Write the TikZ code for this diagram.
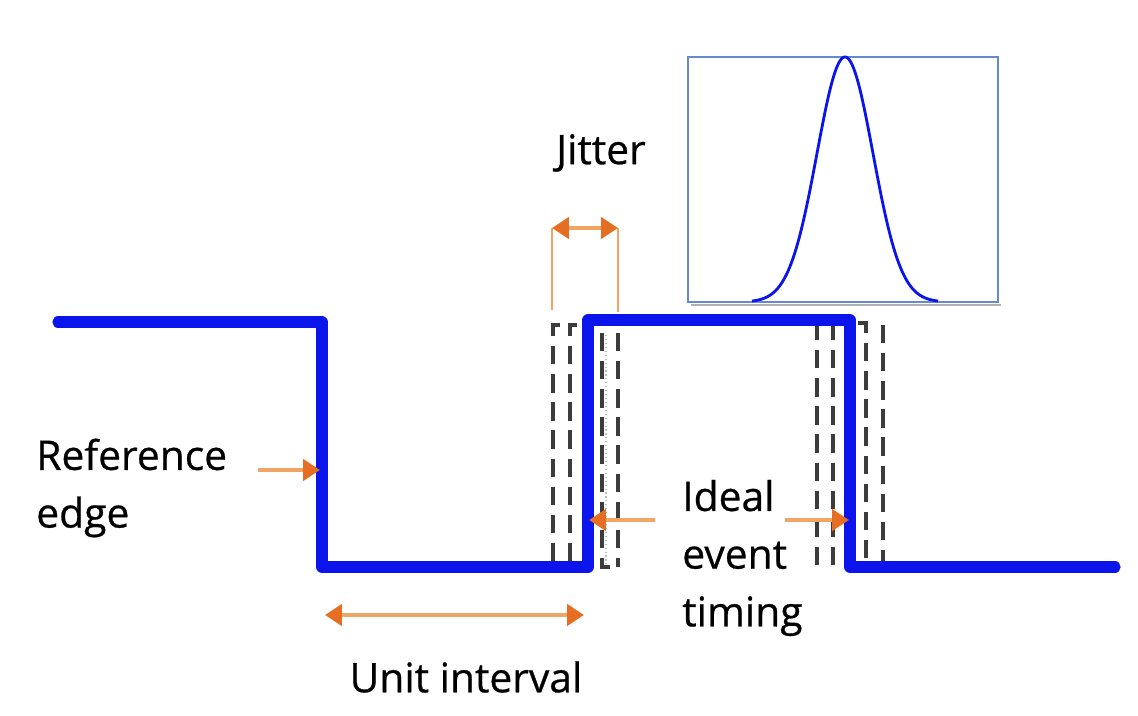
\documentclass[tikz,border=0pt]{standalone}
\usepackage{fontspec}
\setmainfont{Open Sans}
\newfontfamily\lblfont[FakeBold=0.6]{Open Sans}
\usetikzlibrary{arrows.meta}
\definecolor{sig}{RGB}{10,20,235}
\definecolor{orl}{RGB}{240,165,100}
\definecolor{ord}{RGB}{230,110,35}
\definecolor{boxc}{RGB}{100,140,205}
\definecolor{dgr}{RGB}{60,60,60}
\tikzset{
  signal/.style={draw=sig,line width=8pt,line join=round,line cap=round},
  oarrow/.style={draw=orl,line width=2.8pt,-{Triangle[length=12pt,width=15pt,color=ord,fill=ord]}},
  oarrows/.style={draw=orl,line width=2.8pt,{Triangle[length=12pt,width=15pt,color=ord,fill=ord]}-{Triangle[length=12pt,width=15pt,color=ord,fill=ord]}},
  bracket/.style={draw=orl,line width=1.5pt},
  ghost/.style={draw=dgr,line width=2.4pt,dash pattern=on 13pt off 7pt},
  lbl/.style={font=\lblfont\fontsize{29}{41}\selectfont,inner sep=0pt},
}
\begin{document}
\begin{tikzpicture}[x=0.025cm,y=-0.025cm]
\useasboundingbox (0,0) rectangle (1138,716);
% signal corners
\coordinate (s0) at (58,322);
\coordinate (s1) at (322,322);
\coordinate (s2) at (322,567);
\coordinate (s3) at (588,567);
\coordinate (s4) at (588,320);
\coordinate (s5) at (850,320);
\coordinate (s6) at (850,567);
\coordinate (s7) at (1115,567);
% ghost edges (left)
\draw[ghost] (560,325) -- (553,325) -- (553,567);
\draw[ghost] (577,325) -- (570,325) -- (570,567);
\draw[ghost] (602,333) -- (602,567) -- (610,567);
\draw[ghost] (618,333) -- (618,567);
\draw[draw=gray!50,line width=0.8pt,dotted] (606,335) -- (606,565);
% ghost edges (right)
\draw[ghost] (817,322) -- (817,567);
\draw[ghost] (833,322) -- (833,567);
\draw[ghost] (858,323) -- (866,323) -- (866,560);
\draw[ghost] (883,325) -- (883,567);
% signal
\draw[signal] (s0) -- (s1) -- (s2) -- (s3) -- (s4) -- (s5) -- (s6) -- (s7);
% jitter bracket
\coordinate (j1t) at (552,228);
\coordinate (j1b) at (552,310);
\coordinate (j2t) at (618,228);
\coordinate (j2b) at (618,312);
\draw[bracket] (j1b) -- (j1t);
\draw[bracket] (j2b) -- (j2t);
\draw[oarrows] (j1t) -- (j2t);
\node[lbl] (jit) at (601,153) {Jitter};
% histogram box
\draw[draw=gray!60,line width=2pt] (691,305) -- (1001,305);
\draw[fill=white,draw=boxc,line width=1.2pt] (688,57) rectangle (998,302);
\draw[draw=sig,line width=2pt,domain=752:938,samples=120,smooth]
  plot ({\x},{302-245*exp(-((\x-845)^2)/1568)});
% reference edge
\node[lbl,align=left,anchor=west] (ref) at (36,488) {Reference\\edge};
\coordinate (refa) at (258,470);
\coordinate (refb) at (320,470);
\draw[oarrow] (refa) -- (refb);
% ideal event timing
\node[lbl,align=left,anchor=west] (ide) at (682,558) {Ideal\\event\\timing};
\coordinate (ila) at (655,520);
\coordinate (ilb) at (589,520);
\coordinate (ira) at (785,520);
\coordinate (irb) at (849,520);
\draw[oarrow] (ila) -- (ilb);
\draw[oarrow] (ira) -- (irb);
% unit interval
\coordinate (ua) at (325,615);
\coordinate (ub) at (584,615);
\draw[oarrows] (ua) -- (ub);
\node[lbl] (ui) at (466,677) {Unit interval};
\end{tikzpicture}
\end{document}
